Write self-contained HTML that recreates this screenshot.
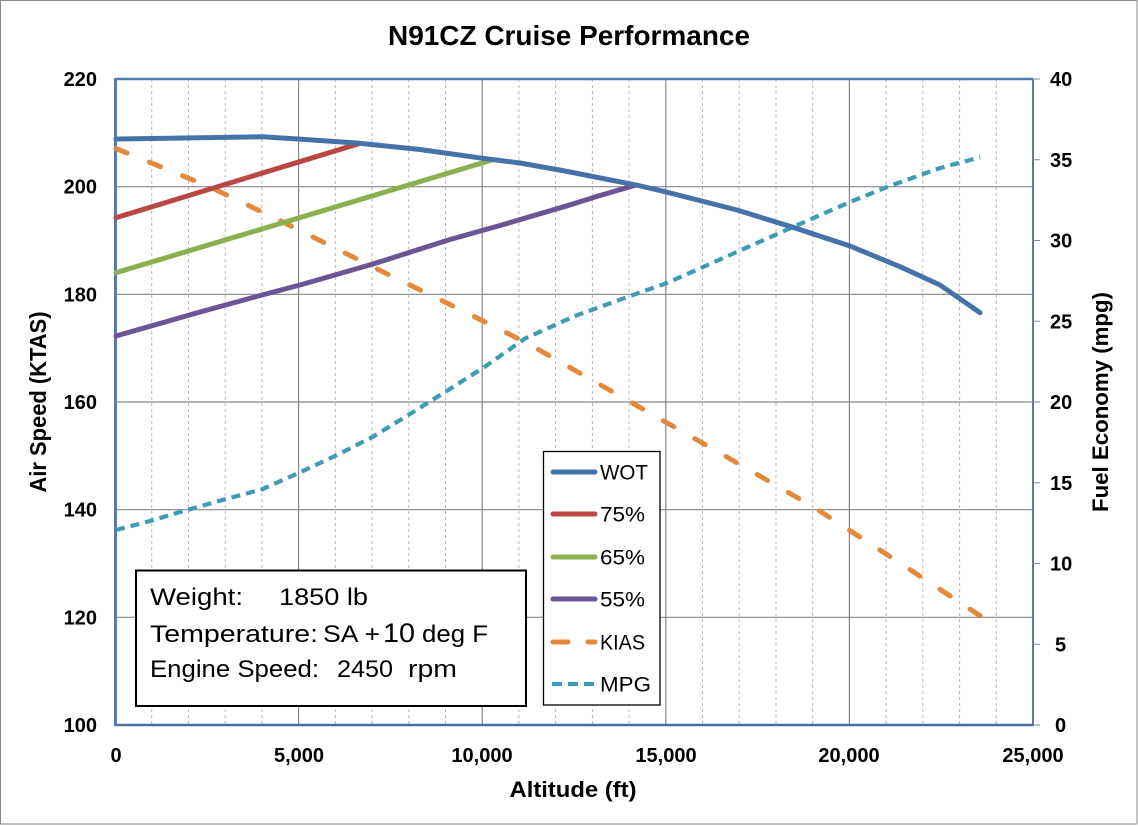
<!DOCTYPE html>
<html>
<head>
<meta charset="utf-8">
<style>
  html,body{margin:0;padding:0;background:#fff;}
  svg{display:block;}
  text{font-family:"Liberation Sans",sans-serif;fill:#000;}
</style>
</head>
<body>
<svg width="1138" height="826" viewBox="0 0 1138 826" xmlns="http://www.w3.org/2000/svg">
  <rect x="0" y="0" width="1138" height="826" fill="#fff"/>
  <rect x="0.5" y="0.5" width="1136.5" height="823.5" fill="none" stroke="#8a8a8a" stroke-width="1"/>

  <!-- Title -->
  <text x="569" y="45" font-size="28" font-weight="bold" text-anchor="middle" textLength="362" lengthAdjust="spacingAndGlyphs">N91CZ Cruise Performance</text>

  <!-- minor vertical grid (dashed) -->
  <g stroke="#b8b8b8" stroke-width="1" stroke-dasharray="3,3">
    <line x1="151.7" y1="79" x2="151.7" y2="725"/>
    <line x1="188.4" y1="79" x2="188.4" y2="725"/>
    <line x1="225.2" y1="79" x2="225.2" y2="725"/>
    <line x1="261.9" y1="79" x2="261.9" y2="725"/>
    <line x1="335.3" y1="79" x2="335.3" y2="725"/>
    <line x1="372.0" y1="79" x2="372.0" y2="725"/>
    <line x1="408.8" y1="79" x2="408.8" y2="725"/>
    <line x1="445.5" y1="79" x2="445.5" y2="725"/>
    <line x1="518.9" y1="79" x2="518.9" y2="725"/>
    <line x1="555.6" y1="79" x2="555.6" y2="725"/>
    <line x1="592.4" y1="79" x2="592.4" y2="725"/>
    <line x1="629.1" y1="79" x2="629.1" y2="725"/>
    <line x1="702.5" y1="79" x2="702.5" y2="725"/>
    <line x1="739.2" y1="79" x2="739.2" y2="725"/>
    <line x1="776.0" y1="79" x2="776.0" y2="725"/>
    <line x1="812.7" y1="79" x2="812.7" y2="725"/>
    <line x1="886.1" y1="79" x2="886.1" y2="725"/>
    <line x1="922.8" y1="79" x2="922.8" y2="725"/>
    <line x1="959.6" y1="79" x2="959.6" y2="725"/>
    <line x1="996.3" y1="79" x2="996.3" y2="725"/>
  </g>
  <!-- major grid -->
  <g stroke="#878787" stroke-width="1.2">
    <line x1="298.6" y1="79" x2="298.6" y2="725"/>
    <line x1="482.2" y1="79" x2="482.2" y2="725"/>
    <line x1="665.8" y1="79" x2="665.8" y2="725"/>
    <line x1="849.4" y1="79" x2="849.4" y2="725"/>
    <line x1="115" y1="186.7" x2="1033" y2="186.7"/>
    <line x1="115" y1="294.3" x2="1033" y2="294.3"/>
    <line x1="115" y1="402" x2="1033" y2="402"/>
    <line x1="115" y1="509.7" x2="1033" y2="509.7"/>
    <line x1="115" y1="617.3" x2="1033" y2="617.3"/>
  </g>

  <!-- plot frame / axes -->
  <line x1="115" y1="79" x2="1033" y2="79" stroke="#4f7db5" stroke-width="2.5"/>
  <line x1="1033" y1="79" x2="1033" y2="725" stroke="#65788f" stroke-width="2"/>
  <line x1="115" y1="725" x2="1034" y2="725" stroke="#4a6f9c" stroke-width="2.5"/>
  <line x1="115.5" y1="78" x2="115.5" y2="726" stroke="#4f7db5" stroke-width="3"/>
  <!-- right ticks -->
  <g stroke="#7a8aa0" stroke-width="1">
    <line x1="1033" y1="79" x2="1040" y2="79"/>
    <line x1="1033" y1="159.75" x2="1040" y2="159.75"/>
    <line x1="1033" y1="240.5" x2="1040" y2="240.5"/>
    <line x1="1033" y1="321.25" x2="1040" y2="321.25"/>
    <line x1="1033" y1="402" x2="1040" y2="402"/>
    <line x1="1033" y1="482.75" x2="1040" y2="482.75"/>
    <line x1="1033" y1="563.5" x2="1040" y2="563.5"/>
    <line x1="1033" y1="644.25" x2="1040" y2="644.25"/>
    <line x1="1033" y1="725" x2="1040" y2="725"/>
  </g>

  <!-- Series -->
  <g fill="none" stroke-linejoin="round" stroke-linecap="round">
    <!-- MPG -->
    <polyline stroke="#3d9cb3" stroke-width="4.2" stroke-linecap="butt" stroke-dasharray="9,6"
      points="116,530 150,521 187,510 225,499.3 262,489.3 298,473.3 337,455 373,436.7 410,414 443,393.3 483,368 525,338.5 575,316 633,295 667,283 730,255 793,227 850,202 887,187 940,168 980,157.3"/>
    <!-- KIAS -->
    <polyline stroke="#e3893c" stroke-width="5" stroke-dasharray="12,24"
      points="116,148.5 210,187 283,222 373,267 450,304.5 527,343 630,401.7 720,453 813,506.7 900,563 982,617"/>
    <!-- 55% -->
    <polyline stroke="#6c5595" stroke-width="5"
      points="116,336 200,312 262,295 300,285 373,264 450,239.5 500,225.5 530,216.7 567,205.8 600,195.5 636,185"/>
    <!-- 65% -->
    <polyline stroke="#8cb04f" stroke-width="5"
      points="116,272.7 492,160"/>
    <!-- 75% -->
    <polyline stroke="#b94743" stroke-width="5"
      points="116,217.7 360,143.3"/>
    <!-- WOT -->
    <polyline stroke="#4672aa" stroke-width="5"
      points="116,139 200,137.8 262,136.7 298,139 360,143.3 420,149.5 483,158.3 520,163 565,171 636,185 665,191.7 737,210 793,227.3 850,246 900,266.7 940,285 980,312.7"/>
  </g>

  <!-- Left tick labels -->
  <g font-size="20" font-weight="bold" text-anchor="end">
    <text x="97" y="86">220</text>
    <text x="97" y="193.7">200</text>
    <text x="97" y="301.3">180</text>
    <text x="97" y="409">160</text>
    <text x="97" y="516.7">140</text>
    <text x="97" y="624.3">120</text>
    <text x="97" y="732">100</text>
  </g>
  <!-- Right tick labels -->
  <g font-size="20" font-weight="bold" text-anchor="start">
    <text x="1050" y="86">40</text>
    <text x="1050" y="166.75">35</text>
    <text x="1050" y="247.5">30</text>
    <text x="1050" y="328.25">25</text>
    <text x="1050" y="409">20</text>
    <text x="1050" y="489.75">15</text>
    <text x="1050" y="570.5">10</text>
    <text x="1055" y="651.25">5</text>
    <text x="1055" y="732">0</text>
  </g>
  <!-- X tick labels -->
  <g font-size="20" font-weight="bold" text-anchor="middle">
    <text x="116" y="762">0</text>
    <text x="299" y="762">5,000</text>
    <text x="482" y="762">10,000</text>
    <text x="666" y="762">15,000</text>
    <text x="849" y="762">20,000</text>
    <text x="1033" y="762">25,000</text>
  </g>

  <!-- Axis titles -->
  <text x="573" y="797" font-size="22" font-weight="bold" text-anchor="middle" textLength="127" lengthAdjust="spacingAndGlyphs">Altitude (ft)</text>
  <text transform="translate(46,402) rotate(-90)" font-size="23" font-weight="bold" text-anchor="middle" textLength="181" lengthAdjust="spacingAndGlyphs">Air Speed (KTAS)</text>
  <text transform="translate(1108,402) rotate(-90)" font-size="22" font-weight="bold" text-anchor="middle" textLength="220" lengthAdjust="spacingAndGlyphs">Fuel Economy (mpg)</text>

  <!-- Info text box -->
  <rect x="136" y="570.5" width="390" height="135.5" fill="#fff" stroke="#000" stroke-width="2"/>
  <g font-size="24">
    <text x="150" y="605" textLength="93" lengthAdjust="spacingAndGlyphs">Weight:</text>
    <text x="279" y="605" textLength="89" lengthAdjust="spacingAndGlyphs">1850 lb</text>
    <text x="150" y="642" textLength="168" lengthAdjust="spacingAndGlyphs">Temperature:</text>
    <text x="323" y="642" textLength="57" lengthAdjust="spacingAndGlyphs">SA +</text>
    <text x="383" y="642" font-size="27" textLength="32" lengthAdjust="spacingAndGlyphs">10</text>
    <text x="422" y="642" textLength="66" lengthAdjust="spacingAndGlyphs">deg F</text>
    <text x="150" y="677" textLength="169" lengthAdjust="spacingAndGlyphs">Engine Speed:</text>
    <text x="337" y="677" textLength="56" lengthAdjust="spacingAndGlyphs">2450</text>
    <text x="408" y="677" textLength="49" lengthAdjust="spacingAndGlyphs">rpm</text>
  </g>

  <!-- Legend -->
  <rect x="543.5" y="451.5" width="116.5" height="253.5" fill="#fff" stroke="#000" stroke-width="1.3"/>
  <g fill="none" stroke-linecap="round" stroke-width="5">
    <line x1="553" y1="472" x2="595" y2="472" stroke="#4672aa"/>
    <line x1="553" y1="514" x2="595" y2="514" stroke="#b94743"/>
    <line x1="553" y1="557" x2="595" y2="557" stroke="#8cb04f"/>
    <line x1="553" y1="599" x2="595" y2="599" stroke="#6c5595"/>
    <line x1="553" y1="642" x2="568" y2="642" stroke="#e3893c"/>
    <line x1="588" y1="642" x2="595" y2="642" stroke="#e3893c"/>
    <line x1="552" y1="684" x2="596" y2="684" stroke="#3d9cb3" stroke-width="4.2" stroke-linecap="butt" stroke-dasharray="10,6"/>
  </g>
  <g font-size="21">
    <text x="600" y="479.5" textLength="48" lengthAdjust="spacingAndGlyphs">WOT</text>
    <text x="600" y="521.5" textLength="45" lengthAdjust="spacingAndGlyphs">75%</text>
    <text x="600" y="564.5" textLength="45" lengthAdjust="spacingAndGlyphs">65%</text>
    <text x="600" y="606.5" textLength="45" lengthAdjust="spacingAndGlyphs">55%</text>
    <text x="600" y="649.5" textLength="45" lengthAdjust="spacingAndGlyphs">KIAS</text>
    <text x="600" y="691.5" textLength="51" lengthAdjust="spacingAndGlyphs">MPG</text>
  </g>
</svg>
</body>
</html>
